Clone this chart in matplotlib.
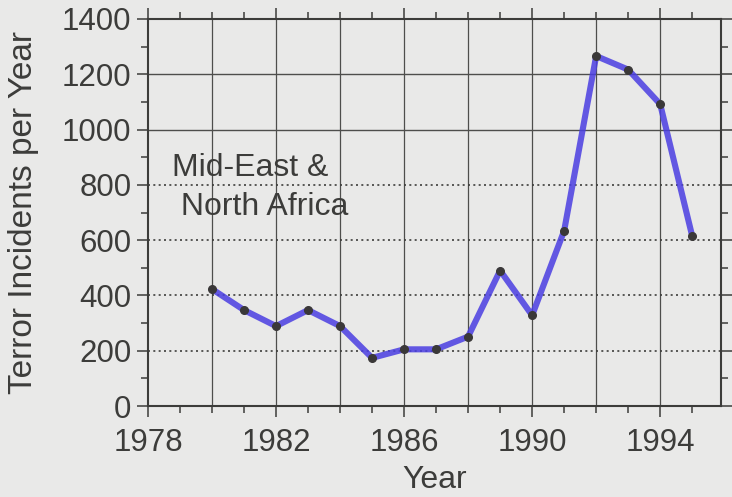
import numpy as np
import matplotlib
matplotlib.use('Agg')
import matplotlib.pyplot as plt
from matplotlib.ticker import MultipleLocator

# ── data ────────────────────────────────────────────────
years = [1980, 1981, 1982, 1983, 1984, 1985, 1986, 1987,
         1988, 1989, 1990, 1991, 1992, 1993, 1994, 1995]
incidents = [423, 347, 289, 347, 289, 174, 205, 205,
             251, 490, 328, 634, 1266, 1217, 1092, 615]
x_ticks = [1978, 1982, 1986, 1990, 1994]
y_ticks = [0, 200, 400, 600, 800, 1000, 1200, 1400]
dotted_rows = [200, 400, 600, 800]
solid_rows = [1000, 1200]
region_label = "Mid-East &\n North Africa"

bg = "#e9e9e8"
ink = "#3c3c3a"
pen = "#4a3ee2"

plt.rcParams['font.family'] = ['Liberation Sans', 'DejaVu Sans']

fig = plt.figure(figsize=(7.32, 4.97), dpi=100, facecolor=bg)
ax = fig.add_axes([148/732, 91/497, (721-148)/732, (406-19)/497])
ax.set_facecolor(bg)

ax.set_xlim(1978, 1995.9)
ax.set_ylim(0, 1400)

# grid: solid verticals every 2 years, dotted / solid horizontals
for yr in range(1980, 1996, 2):
    ax.axvline(yr, color="#4e4e4c", lw=0.9, zorder=1)
for v in dotted_rows:
    ax.axhline(v, color="#3e3e3c", lw=1.2, ls=(0, (1.2, 2.0)), zorder=1)
for v in solid_rows:
    ax.axhline(v, color="#4e4e4c", lw=1.0, zorder=1)

# hand-drawn marker line + dots
ax.plot(years, incidents, color=pen, lw=4.4, alpha=0.85,
        solid_capstyle="round", solid_joinstyle="round", zorder=3)
ax.plot(years, incidents, ls="none", marker="o", ms=5.5,
        color="#3a3838", zorder=4)

ax.set_xticks(x_ticks)
ax.set_yticks(y_ticks)
ax.xaxis.set_minor_locator(MultipleLocator(1))
ax.yaxis.set_minor_locator(MultipleLocator(100))
ax.tick_params(which="both", direction="out", top=True, right=True,
               color=ink, width=1.1, labelcolor=ink, labelsize=22.5)
ax.tick_params(which="major", length=8)
ax.tick_params(axis="x", which="major", pad=8)
ax.tick_params(axis="y", which="major", pad=4)
ax.tick_params(which="minor", length=5)

for sp in ax.spines.values():
    sp.set_color(ink)
    sp.set_linewidth(1.5)

ax.set_xlabel("Year", fontsize=23, color=ink, labelpad=5)
ax.set_ylabel("Terror Incidents per Year", fontsize=24, color=ink, labelpad=16)

ax.text(1978.75, 915, region_label, fontsize=23, color=ink,
        va="top", ha="left", linespacing=1.4, zorder=5)

fig.savefig("out.png", dpi=100, facecolor=bg)
